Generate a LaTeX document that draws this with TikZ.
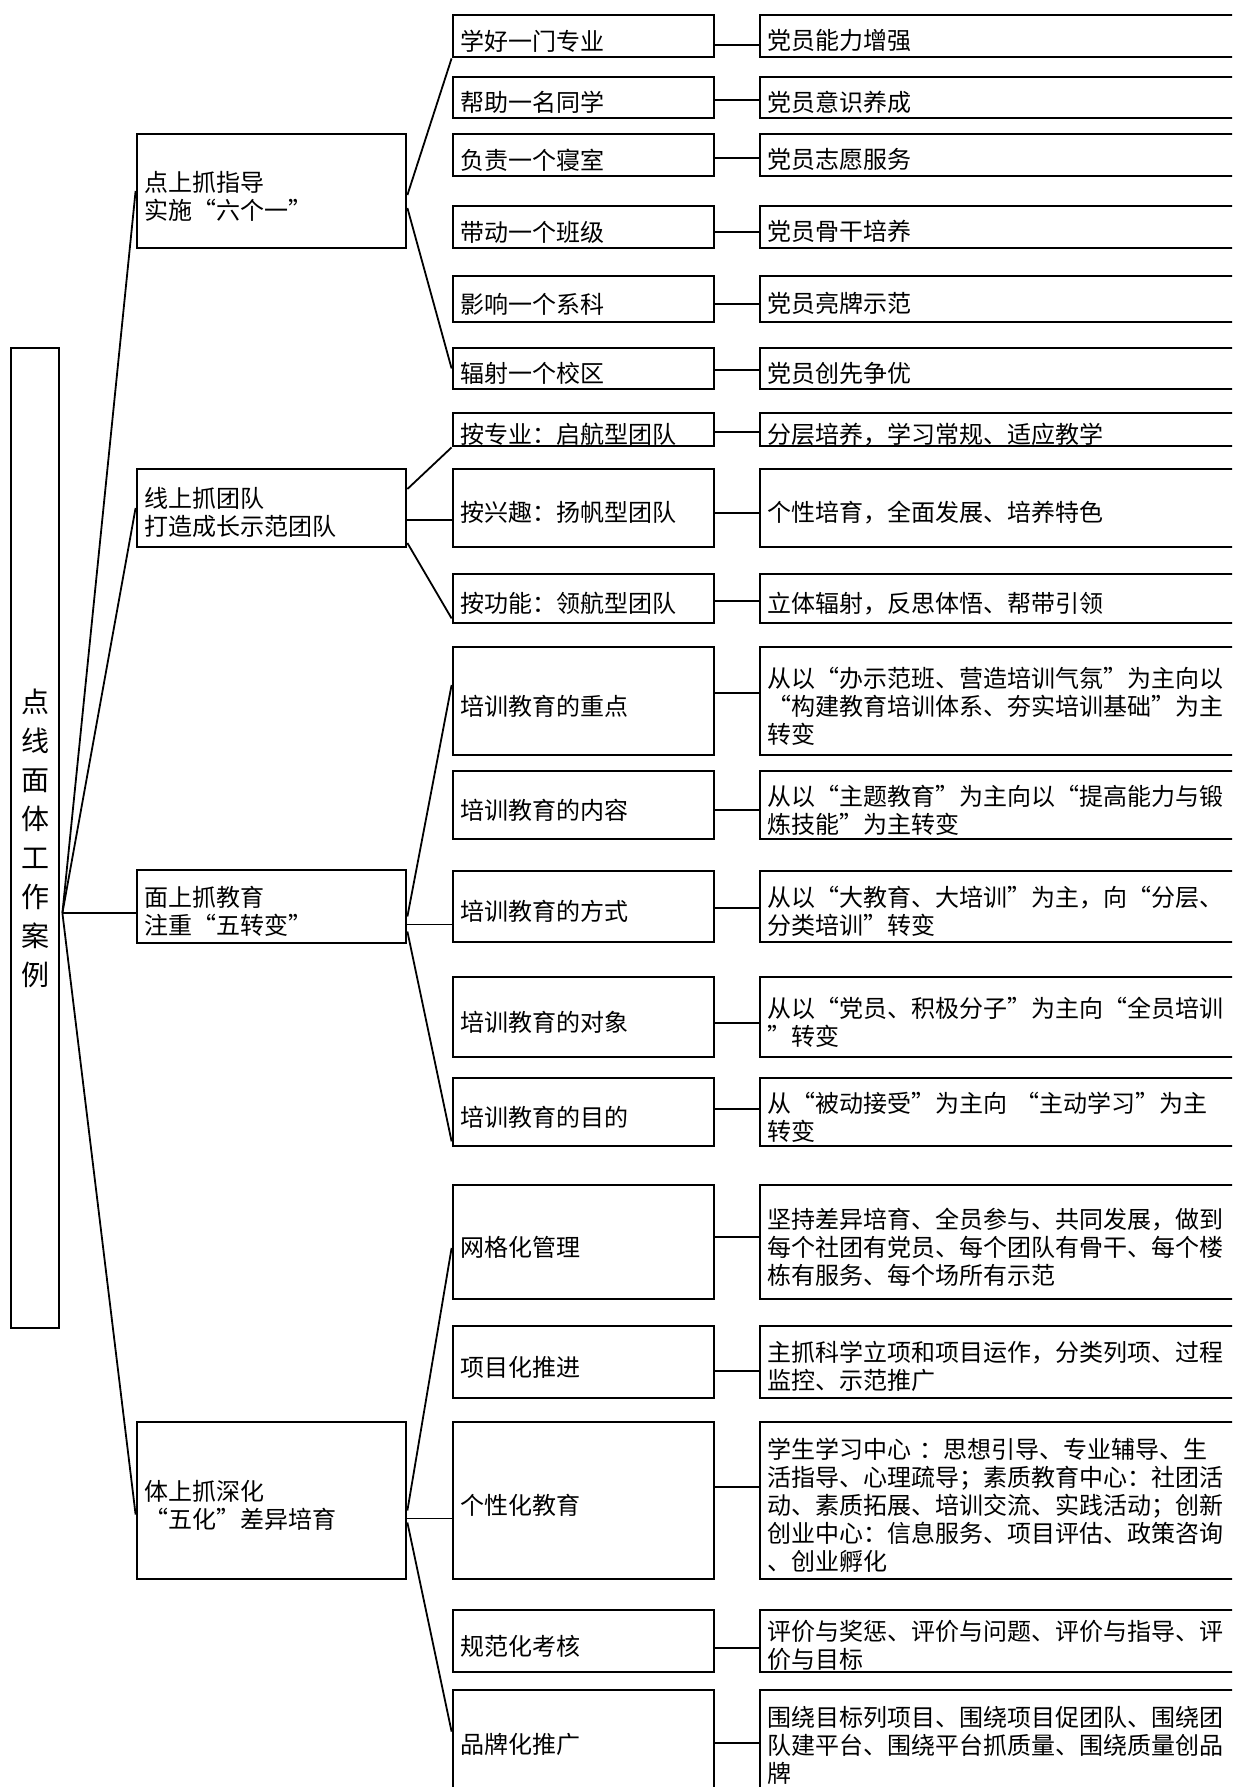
\documentclass[tikz,border=0pt]{standalone}
\usepackage{fontspec}
\setmainfont{Noto Sans CJK SC}
\usetikzlibrary{calc}
\definecolor{ink}{HTML}{000000}

\begin{document}
\begin{tikzpicture}[x=0.5pt,y=-0.5pt,font={\fontsize{12pt}{14pt}\selectfont},
  box/.style={draw=ink,line width=1.4pt,inner xsep=3.5pt,inner ysep=0pt,
              align=left,text height=15pt},
  headbox/.style={box,minimum width=134.5pt,text width=127.5pt},
  itembox/.style={box,minimum width=130.5pt,text width=123.5pt},
  notebox/.style={box,minimum width=240pt,text width=233pt},
  rootbox/.style={draw=ink,line width=1.4pt,inner sep=0pt,minimum width=24pt,
                  minimum height=490pt,align=center,
                  font={\fontsize{14pt}{19.5pt}\selectfont}},
  link/.style={draw=ink,line width=0.9pt}]

  \useasboundingbox (0,0) rectangle (1232,1787);
  \fill[white] (0,0) rectangle (1232,1787);
  \clip (0,0) rectangle (1232,1787);

  % root
  \node[rootbox] (root) at (35,838) {点\\线\\面\\体\\工\\作\\案\\例};

  % four heads
  \node[headbox,minimum height=57pt] (A) at (271.5,191) {点上抓指导\\实施“六个一”};
  \node[headbox,minimum height=39pt] (B) at (271.5,508) {线上抓团队\\打造成长示范团队};
  \node[headbox,minimum height=36.5pt] (C) at (271.5,906.5) {面上抓教育\\注重“五转变”};
  \node[headbox,minimum height=78.5pt] (D) at (271.5,1500.5) {体上抓深化\\“五化”差异培育};

  % items
  \node[itembox,minimum height=21pt] (l1) at (583.5,36) {学好一门专业};
  \node[itembox,minimum height=20.5pt] (l2) at (583.5,97.5) {帮助一名同学};
  \node[itembox,minimum height=21pt] (l3) at (583.5,155) {负责一个寝室};
  \node[itembox,minimum height=21pt] (l4) at (583.5,227) {带动一个班级};
  \node[itembox,minimum height=23pt] (l5) at (583.5,299) {影响一个系科};
  \node[itembox,minimum height=20.5pt] (l6) at (583.5,368.5) {辐射一个校区};
  \node[itembox,minimum height=16.5pt] (l7) at (583.5,429.5) {按专业：启航型团队};
  \node[itembox,minimum height=39pt] (l8) at (583.5,508) {按兴趣：扬帆型团队};
  \node[itembox,minimum height=24.5pt] (l9) at (583.5,598.5) {按功能：领航型团队};
  \node[itembox,minimum height=54pt] (l10) at (583.5,701) {培训教育的重点};
  \node[itembox,minimum height=34pt] (l11) at (583.5,805) {培训教育的内容};
  \node[itembox,minimum height=35.5pt] (l12) at (583.5,906.5) {培训教育的方式};
  \node[itembox,minimum height=40pt] (l13) at (583.5,1017) {培训教育的对象};
  \node[itembox,minimum height=34pt] (l14) at (583.5,1112) {培训教育的目的};
  \node[itembox,minimum height=57pt] (l15) at (583.5,1242) {网格化管理};
  \node[itembox,minimum height=36pt] (l16) at (583.5,1362) {项目化推进};
  \node[itembox,minimum height=78.5pt] (l17) at (583.5,1500.5) {个性化教育};
  \node[itembox,minimum height=31pt] (l18) at (583.5,1641) {规范化考核};
  \node[itembox,minimum height=50pt] (l19) at (583.5,1740) {品牌化推广};

  % notes
  \node[notebox,minimum height=21pt] (r1) at (1000,36) {党员能力增强};
  \node[notebox,minimum height=20.5pt] (r2) at (1000,97.5) {党员意识养成};
  \node[notebox,minimum height=21pt] (r3) at (1000,155) {党员志愿服务};
  \node[notebox,minimum height=21pt] (r4) at (1000,227) {党员骨干培养};
  \node[notebox,minimum height=23pt] (r5) at (1000,299) {党员亮牌示范};
  \node[notebox,minimum height=20.5pt] (r6) at (1000,368.5) {党员创先争优};
  \node[notebox,minimum height=16.5pt] (r7) at (1000,429.5) {分层培养，学习常规、适应教学};
  \node[notebox,minimum height=39pt] (r8) at (1000,508) {个性培育，全面发展、培养特色};
  \node[notebox,minimum height=24.5pt] (r9) at (1000,598.5) {立体辐射，反思体悟、帮带引领};
  \node[notebox,minimum height=54pt] (r10) at (1000,701)
    {从以“办示范班、营造培训气氛”为主向以\\“构建教育培训体系、夯实培训基础”为主\\转变};
  \node[notebox,minimum height=34pt] (r11) at (1000,805)
    {从以“主题教育”为主向以“提高能力与锻\\炼技能”为主转变};
  \node[notebox,minimum height=35.5pt] (r12) at (1000,906.5)
    {从以“大教育、大培训”为主，向“分层、\\分类培训”转变};
  \node[notebox,minimum height=40pt] (r13) at (1000,1017)
    {从以“党员、积极分子”为主向“全员培训\\”转变};
  \node[notebox,minimum height=34pt] (r14) at (1000,1112)
    {从“被动接受”为主向 “主动学习”为主\\转变};
  \node[notebox,minimum height=57pt] (r15) at (1000,1242)
    {坚持差异培育、全员参与、共同发展，做到\\每个社团有党员、每个团队有骨干、每个楼\\栋有服务、每个场所有示范};
  \node[notebox,minimum height=36pt] (r16) at (1000,1362)
    {主抓科学立项和项目运作，分类列项、过程\\监控、示范推广};
  \node[notebox,minimum height=78.5pt] (r17) at (1000,1500.5)
    {学生学习中心 ：思想引导、专业辅导、生\\活指导、心理疏导；素质教育中心：社团活\\动、素质拓展、培训交流、实践活动；创新\\创业中心：信息服务、项目评估、政策咨询\\、创业孵化};
  \node[notebox,minimum height=31pt] (r18) at (1000,1641)
    {评价与奖惩、评价与问题、评价与指导、评\\价与目标};
  \node[notebox,minimum height=50pt] (r19) at (1000,1740)
    {围绕目标列项目、围绕项目促团队、围绕团\\队建平台、围绕平台抓质量、围绕质量创品\\牌};

  % root to heads
  \coordinate (hub) at ([xshift=1pt,yshift=-37.5pt]root.east);
  \draw[link] (hub) -- (A.west);
  \draw[link] (hub) -- (B.west);
  \draw[link] (hub) -- (hub -| C.west);
  \draw[link] (hub) -- ([yshift=-7pt]D.west);

  % heads to items
  \draw[link] ([yshift=-2pt]A.east) -- (l1.south west);
  \draw[link] ([yshift=-8.5pt]A.east) -- (l6.west);
  \draw[link] ([yshift=9.5pt]B.east) -- (l7.south west);
  \draw[link] ([yshift=-6pt]B.east) -- ([yshift=-6pt]l8.west);
  \draw[link] ([yshift=-17.5pt]B.east) -- ([yshift=3pt]l9.south west);
  \draw[link] ([yshift=-5pt]C.east) -- ([yshift=8pt]l10.west);
  \draw[link] ([yshift=-9pt]C.east) -- ([yshift=-9pt]l12.west);
  \draw[link] ([yshift=-12.5pt]C.east) -- ([yshift=3pt]l14.south west);
  \draw[link] ([yshift=-5pt]D.east) -- ([yshift=-3pt]l15.west);
  \draw[link] ([yshift=-9pt]D.east) -- ([yshift=-9pt]l17.west);
  \draw[link] ([yshift=-11pt]D.east) -- ([yshift=-21.5pt]l19.north west);

  % items to notes
  \draw[link] ([yshift=-4.5pt]l1.east) -- ([yshift=-4.5pt]r1.west);
  \draw[link] ([yshift=-1.25pt]l2.east) -- ([yshift=-1.25pt]r2.west);
  \draw[link] ([yshift=-1.5pt]l3.east) -- ([yshift=-1.5pt]r3.west);
  \draw[link] ([yshift=-2.5pt]l4.east) -- ([yshift=-2.5pt]r4.west);
  \draw[link] ([yshift=-2.5pt]l5.east) -- ([yshift=-2.5pt]r5.west);
  \draw[link] ([yshift=-0.75pt]l6.east) -- ([yshift=-0.75pt]r6.west);
  \draw[link] ([yshift=-1.25pt]l7.east) -- ([yshift=-1.25pt]r7.west);
  \draw[link] ([yshift=-2.5pt]l8.east) -- ([yshift=-2.5pt]r8.west);
  \draw[link] ([yshift=-1.25pt]l9.east) -- ([yshift=-1.25pt]r9.west);
  \draw[link] ([yshift=4pt]l10.east) -- ([yshift=4pt]r10.west);
  \draw[link] ([yshift=-2.5pt]l11.east) -- ([yshift=-2.5pt]r11.west);
  \draw[link] ([yshift=-0.75pt]l12.east) -- ([yshift=-0.75pt]r12.west);
  \draw[link] ([yshift=-3pt]l13.east) -- ([yshift=-3pt]r13.west);
  \draw[link] ([yshift=1.5pt]l14.east) -- ([yshift=1.5pt]r14.west);
  \draw[link] ([yshift=2.5pt]l15.east) -- ([yshift=2.5pt]r15.west);
  \draw[link] ([yshift=-4.5pt]l16.east) -- ([yshift=-4.5pt]r16.west);
  \draw[link] ([yshift=6.75pt]l17.east) -- ([yshift=6.75pt]r17.west);
  \draw[link] ([yshift=-3.5pt]l18.east) -- ([yshift=-3.5pt]r18.west);
  \draw[link] ([yshift=-1.5pt]l19.east) -- ([yshift=-1.5pt]r19.west);
\end{tikzpicture}
\end{document}
